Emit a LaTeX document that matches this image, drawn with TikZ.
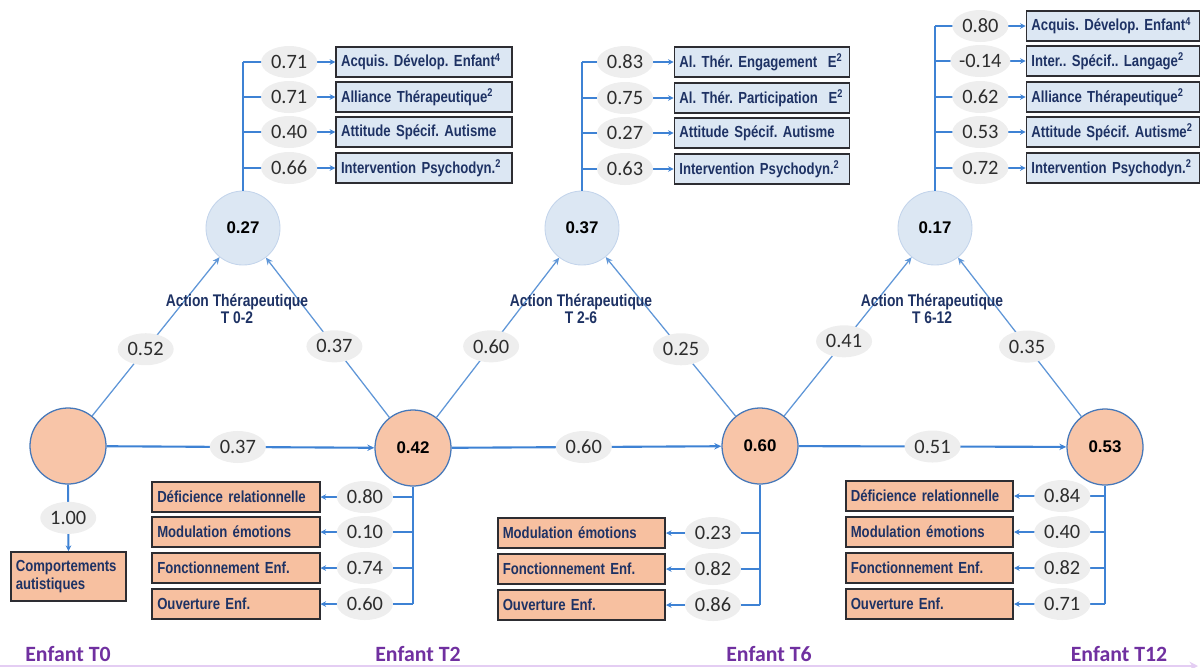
\documentclass[tikz,border=0pt]{standalone}
\usepackage{fontspec}
\setmainfont{Carlito}
\newfontfamily\narrowfont[FakeStretch=0.82]{Liberation Sans}
\newfontfamily\arialfont{Liberation Sans}
\usetikzlibrary{arrows.meta,shapes.geometric}
\definecolor{lineblue}{RGB}{62,130,212}
\definecolor{tblue}{RGB}{95,150,215}
\definecolor{labgrey}{RGB}{238,238,238}
\definecolor{labtext}{RGB}{45,45,45}
\definecolor{peach}{RGB}{248,197,168}
\definecolor{peachbox}{RGB}{247,192,160}
\definecolor{cborder}{RGB}{70,120,185}
\definecolor{lblue}{RGB}{220,231,243}
\definecolor{bcborder}{RGB}{195,212,235}
\definecolor{boxdark}{RGB}{45,45,50}
\definecolor{navy}{RGB}{30,50,100}
\definecolor{enfpurple}{RGB}{112,48,160}
\definecolor{lavender}{RGB}{228,205,243}
\newcommand{\bx}[1]{\mbox{#1}}
\frenchspacing
\begin{document}
\begin{tikzpicture}[x=0.025cm,y=-0.025cm,
  hline/.style={draw=lineblue,line width=1.5pt,-{Stealth[length=5pt,width=4.5pt]}},
  tline/.style={draw=tblue,line width=0.9pt,-{Stealth[length=5pt,width=4.5pt]}},
  loadv/.style={draw=lineblue,line width=1.4pt},
  loada/.style={loadv,-{Stealth[length=4pt,width=4pt]}},
  lab/.style={ellipse,fill=labgrey,inner sep=0pt,minimum width=1.4cm,minimum height=0.8cm,font=\fontsize{14.5}{14.5}\selectfont,text=labtext},
  ocirc/.style={circle,fill=peach,draw=cborder,line width=0.9pt,minimum size=1.9cm,inner sep=0pt,font=\arialfont\bfseries\fontsize{12}{12}\selectfont},
  bcirc/.style={circle,fill=lblue,draw=bcborder,line width=0.6pt,minimum size=1.85cm,inner sep=0pt,font=\arialfont\bfseries\fontsize{12}{12}\selectfont},
  bbox/.style={draw=boxdark,line width=1.2pt,fill=lblue,minimum height=0.75cm,text width=#1,align=left,inner xsep=3.5pt,inner ysep=0pt,font=\frenchspacing\narrowfont\bfseries\fontsize{11.4}{13}\selectfont,text=navy},
  obox/.style={bbox=#1,fill=peachbox},
  act/.style={align=center,text=navy,font=\narrowfont\bfseries\fontsize{12}{12.5}\selectfont},
  enf/.style={anchor=base,text=enfpurple,font=\bfseries\fontsize{15.5}{16}\selectfont}
]
\useasboundingbox (0,0) rectangle (1200,667);

% bottom timeline
\coordinate (tl0) at (0,666);
\coordinate (tl1) at (1198,666);
\draw[draw=lavender,line width=2pt,-{Stealth[length=6pt,width=6pt]}] (tl0) -- (tl1);

% child circles
\node[ocirc] (C0) at (68,446) {};
\node[ocirc] (C2) at (413,448) {0.42};
\node[ocirc] (C6) at (760,446) {0.60};
\node[ocirc] (C12) at (1105,447) {0.53};

% therapeutic action circles
\node[bcirc] (A1) at (243,228) {0.27};
\node[bcirc] (A2) at (582,228) {0.37};
\node[bcirc] (A3) at (935,228) {0.17};

% top boxes group 1
\node[bbox=118pt] (g11) at (424,62) {\bx{Acquis. Dévelop. Enfant\textsuperscript{4}}};
\node[bbox=118pt] (g12) at (424,97) {\bx{Alliance Thérapeutique\textsuperscript{2}}};
\node[bbox=118pt] (g13) at (424,132) {\bx{Attitude Spécif. Autisme}};
\node[bbox=118pt] (g14) at (424,168) {\bx{Intervention Psychodyn.\textsuperscript{2}}};
% group 2
\node[bbox=117.5pt] (g21) at (762,62) {\bx{Al. Thér. Engagement~ E\textsuperscript{2}}};
\node[bbox=117.5pt] (g22) at (762,98) {\bx{Al. Thér. Participation~ E\textsuperscript{2}}};
\node[bbox=117.5pt] (g23) at (762,133) {\bx{Attitude Spécif. Autisme}};
\node[bbox=117.5pt] (g24) at (762,169) {\bx{Intervention Psychodyn.\textsuperscript{2}}};
% group 3
\node[bbox=116pt] (g31) at (1113,26) {\bx{Acquis. Dévelop. Enfant\textsuperscript{4}}};
\node[bbox=116pt] (g32) at (1113,61) {\bx{Inter.. Spécif.. Langage\textsuperscript{2}}};
\node[bbox=116pt] (g33) at (1113,97) {\bx{Alliance Thérapeutique\textsuperscript{2}}};
\node[bbox=116pt] (g34) at (1113,132) {\bx{Attitude Spécif. Autisme\textsuperscript{2}}};
\node[bbox=116pt] (g35) at (1113,168) {\bx{Intervention Psychodyn.\textsuperscript{2}}};

% bottom boxes
\node[obox=75pt,minimum height=35pt] (comp) at (68.5,576.5) {Comportements\\autistiques};
\node[obox=112pt] (h11) at (236,497) {\bx{Déficience relationnelle}};
\node[obox=112pt] (h12) at (236,532) {\bx{Modulation émotions}};
\node[obox=112pt] (h13) at (236,568) {\bx{Fonctionnement Enf.}};
\node[obox=112pt] (h14) at (236,604) {\bx{Ouverture Enf.}};
\node[obox=112pt] (h21) at (581.5,533) {\bx{Modulation émotions}};
\node[obox=112pt] (h22) at (581.5,569) {\bx{Fonctionnement Enf.}};
\node[obox=112pt] (h23) at (581.5,605) {\bx{Ouverture Enf.}};
\node[obox=112pt] (h31) at (929.5,496) {\bx{Déficience relationnelle}};
\node[obox=112pt] (h32) at (929.5,532) {\bx{Modulation émotions}};
\node[obox=112pt] (h33) at (929.5,568) {\bx{Fonctionnement Enf.}};
\node[obox=112pt] (h34) at (929.5,604) {\bx{Ouverture Enf.}};

% loadings top
\draw[loadv] (A1.north) -- (A1.north |- g11.west);
\draw[loada] (A1.north |- g11.west) -- node[lab]{0.71} (g11.west);
\draw[loada] (A1.north |- g12.west) -- node[lab]{0.71} (g12.west);
\draw[loada] (A1.north |- g13.west) -- node[lab]{0.40} (g13.west);
\draw[loada] (A1.north |- g14.west) -- node[lab]{0.66} (g14.west);

\draw[loadv] (A2.north) -- (A2.north |- g21.west);
\draw[loada] (A2.north |- g21.west) -- node[lab,pos=0.47]{0.83} (g21.west);
\draw[loada] (A2.north |- g22.west) -- node[lab,pos=0.47]{0.75} (g22.west);
\draw[loada] (A2.north |- g23.west) -- node[lab,pos=0.47]{0.27} (g23.west);
\draw[loada] (A2.north |- g24.west) -- node[lab,pos=0.47]{0.63} (g24.west);

\draw[loadv] (A3.north) -- (A3.north |- g31.west);
\draw[loada] (A3.north |- g31.west) -- node[lab]{0.80} (g31.west);
\draw[loada] (A3.north |- g32.west) -- node[lab]{-0.14} (g32.west);
\draw[loada] (A3.north |- g33.west) -- node[lab]{0.62} (g33.west);
\draw[loada] (A3.north |- g34.west) -- node[lab]{0.53} (g34.west);
\draw[loada] (A3.north |- g35.west) -- node[lab]{0.72} (g35.west);

% loadings bottom
\draw[loada] (C0.south) -- node[lab]{1.00} (comp.north);

\draw[loadv] (C2.south) -- (C2.south |- h14.east);
\draw[loada] (C2.south |- h11.east) -- node[lab,pos=0.52]{0.80} (h11.east);
\draw[loada] (C2.south |- h12.east) -- node[lab,pos=0.52]{0.10} (h12.east);
\draw[loada] (C2.south |- h13.east) -- node[lab,pos=0.52]{0.74} (h13.east);
\draw[loada] (C2.south |- h14.east) -- node[lab,pos=0.52]{0.60} (h14.east);

\draw[loadv] (C6.south) -- (C6.south |- h23.east);
\draw[loada] (C6.south |- h21.east) -- node[lab,pos=0.5]{0.23} (h21.east);
\draw[loada] (C6.south |- h22.east) -- node[lab,pos=0.5]{0.82} (h22.east);
\draw[loada] (C6.south |- h23.east) -- node[lab,pos=0.5]{0.86} (h23.east);

\draw[loadv] (C12.south) -- (C12.south |- h34.east);
\draw[loada] (C12.south |- h31.east) -- node[lab,pos=0.47]{0.84} (h31.east);
\draw[loada] (C12.south |- h32.east) -- node[lab,pos=0.47]{0.40} (h32.east);
\draw[loada] (C12.south |- h33.east) -- node[lab,pos=0.47]{0.82} (h33.east);
\draw[loada] (C12.south |- h34.east) -- node[lab,pos=0.47]{0.71} (h34.east);

% horizontal paths
\draw[hline] (C0) -- node[lab,pos=0.49]{0.37} (C2);
\draw[hline] (C2) -- node[lab,pos=0.49]{0.60} (C6);
\draw[hline] (C6) -- node[lab,pos=0.5]{0.51} (C12);

% triangle paths
\draw[tline] (C0) -- node[lab,pos=0.42]{0.52} (A1);
\draw[tline] (C2) -- node[lab,pos=0.445]{0.37} (A1);
\draw[tline] (C2) -- node[lab,pos=0.445]{0.60} (A2);
\draw[tline] (C6) -- node[lab,pos=0.42]{0.25} (A2);
\draw[tline] (C6) -- node[lab,pos=0.47]{0.41} (A3);
\draw[tline] (C12) -- node[lab,pos=0.44]{0.35} (A3);

% action labels
\node[act] (t1) at (237,309) {Action Thérapeutique\\T 0-2};
\node[act] (t2) at (581,309) {Action Thérapeutique\\T 2-6};
\node[act] (t3) at (932,309) {Action Thérapeutique\\T 6-12};

% time labels
\node[enf] (e0) at (68,661) {Enfant T0};
\node[enf] (e2) at (418,661) {Enfant T2};
\node[enf] (e6) at (769,661) {Enfant T6};
\node[enf] (e12) at (1119,661) {Enfant T12};
\end{tikzpicture}
\end{document}
